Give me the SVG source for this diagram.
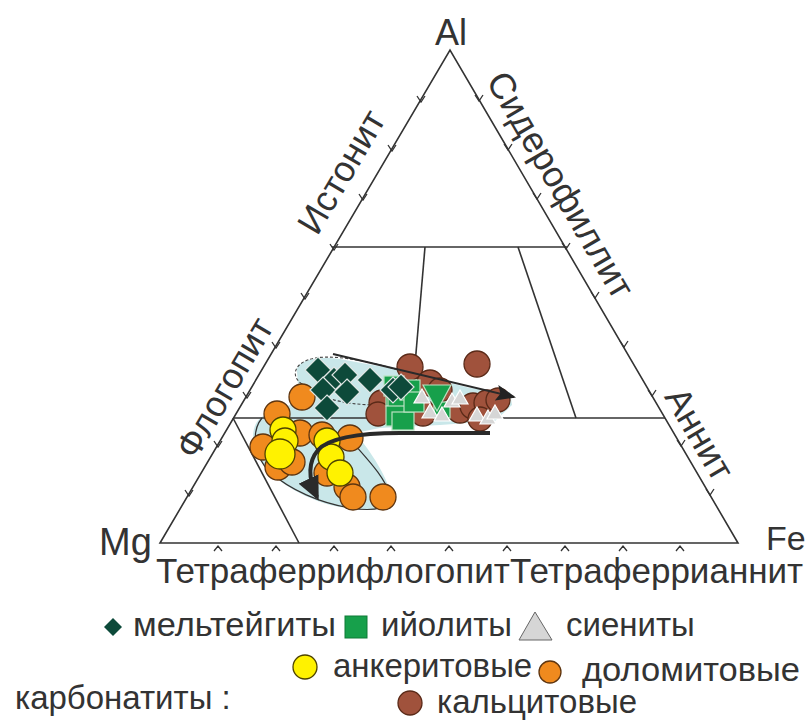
<svg xmlns="http://www.w3.org/2000/svg" width="810" height="720" viewBox="0 0 810 720">
<defs>
<style>
.lbl{font-family:"Liberation Sans",Arial,sans-serif;fill:#333;}
.big{font-size:36px;}
.leg{font-size:33px;}
.edge{fill:none;stroke:#333;stroke-width:1.6;}
.tick{fill:none;stroke:#333;stroke-width:1.3;}
.dia{fill:#0d4a3a;stroke:#e0e6e4;stroke-width:1.2;}
.sq{fill:#17a04b;stroke:#b9e2c2;stroke-width:1.2;}
.br{fill:#a0523c;stroke:#5a2a18;stroke-width:1.3;}
.or{fill:#f08a1e;stroke:#5e3510;stroke-width:1.3;}
.ye{fill:#fff200;stroke:#4e4300;stroke-width:1.3;}
.tr{fill:#d6d6d6;stroke:#ffffff;stroke-width:1.2;}
</style>
<marker id="ah" markerUnits="userSpaceOnUse" markerWidth="20" markerHeight="16" viewBox="0 0 20 16" refX="18" refY="8" orient="auto">
<path d="M0,0 L20,8 L0,16 L4,8 Z" fill="#222"/>
</marker>
<marker id="ah2" markerUnits="userSpaceOnUse" markerWidth="24" markerHeight="22" viewBox="0 0 24 22" refX="20" refY="11" orient="auto">
<path d="M0,0 L24,11 L0,22 Z" fill="#2a2a2a"/>
</marker>
</defs>
<rect width="810" height="720" fill="#ffffff"/>

<g id="field">
<path d="M297,372 C295,360 320,355 345,360 L400,370 L430,378 L470,388 L510,392 L512,405 L495,421 L440,425 L380,428 L355,433 C370,450 390,480 392,500 C390,512 360,512 330,505 C295,495 265,475 255,450 C250,432 255,420 265,415 L290,405 C300,395 298,385 297,372 Z" fill="#c9e7e9"/>
<path d="M302,384 C290,376 294,362 315,358 C340,354 380,364 412,374" fill="none" stroke="#444" stroke-width="1.1" stroke-dasharray="3,2"/>
<path d="M302,384 C315,396 340,405 378,405" fill="none" stroke="#444" stroke-width="1.1" stroke-dasharray="3,2"/>
<path d="M262,418 C252,430 252,455 270,472 C290,490 320,503 350,508 C375,512 393,508 390,495 C385,478 370,462 355,445" fill="none" stroke="#333" stroke-width="1.2"/>
</g>

<g id="frame">
<polygon class="edge" points="160,543 738,543 450,50"/>
<line class="edge" x1="332" y1="247" x2="567" y2="247"/>
<line class="edge" x1="233" y1="418" x2="665" y2="418"/>
<line class="edge" x1="425" y1="247" x2="412" y2="400"/>
<line class="edge" x1="518" y1="247" x2="576" y2="418"/>
<line class="edge" x1="233" y1="418" x2="299" y2="543"/>
</g>

<g id="ticks">
<path class="tick" d="M185,490 L189,496 L193,490 M214,441 L218,447 L222,441 M243,392 L247,398 L251,392 M272,342 L276,348 L280,342 M301,293 L305,299 L309,293 M330,244 L334,250 L338,244 M359,194 L363,200 L367,194 M388,145 L392,151 L396,145 M417,96 L421,102 L425,96"/>
<path class="tick" d="M475,95 L479,101 L483,95 M504,144 L508,150 L512,144 M533,193 L537,199 L541,193 M562,243 L566,249 L570,243 M591,292 L595,298 L599,292 M620,341 L624,347 L628,341 M648,390 L652,396 L656,390 M677,440 L681,446 L685,440 M706,489 L710,495 L714,489"/>
<path class="tick" d="M214,551 L218,546 L222,551 M272,551 L276,546 L280,551 M330,551 L334,546 L338,551 M387,551 L391,546 L395,551 M445,551 L449,546 L453,551 M503,551 L507,546 L511,551 M561,551 L565,546 L569,551 M619,551 L623,546 L627,551 M676,551 L680,546 L684,551"/>
</g>

<g id="labels">
<text class="lbl big" x="451" y="45" text-anchor="middle">Al</text>
<text class="lbl" style="font-size:38px" x="99" y="555">Mg</text>
<text class="lbl" style="font-size:34px" x="766" y="550">Fe</text>
<text class="lbl" style="font-size:35px" x="156" y="583">Тетраферрифлогопит</text>
<text class="lbl" style="font-size:35px" x="510" y="583">Тетраферрианнит</text>
<text class="lbl big" transform="translate(352,178) rotate(-59.5)" text-anchor="middle">Истонит</text>
<text class="lbl big" transform="translate(550,191) rotate(59.7)" text-anchor="middle">Сидерофиллит</text>
<text class="lbl big" transform="translate(235,394) rotate(-59.5)" text-anchor="middle">Флогопит</text>
<text class="lbl big" transform="translate(689,440) rotate(59.7)" text-anchor="middle">Аннит</text>
</g>

<g id="data">
<g id="dolomite">
<circle class="or" cx="302" cy="397" r="13"/>
<circle class="or" cx="277" cy="414" r="13"/>
<circle class="or" cx="300" cy="433" r="13"/>
<circle class="or" cx="263" cy="447" r="13"/>
<circle class="or" cx="278" cy="467" r="13"/>
<circle class="or" cx="292" cy="462" r="13"/>
<circle class="or" cx="322" cy="435" r="13"/>
<circle class="or" cx="350" cy="438" r="13"/>
<circle class="or" cx="327" cy="473" r="13"/>
<circle class="or" cx="347" cy="487" r="13"/>
<circle class="or" cx="353" cy="497" r="13"/>
<circle class="or" cx="383" cy="497" r="13"/>
</g>
<g id="ankerite">
<circle class="ye" cx="283" cy="430" r="13"/>
<circle class="ye" cx="285" cy="441" r="13"/>
<circle class="ye" cx="280" cy="454" r="15"/>
<circle class="ye" cx="327" cy="441" r="13"/>
<circle class="ye" cx="331" cy="457" r="13"/>
<circle class="ye" cx="340" cy="473" r="13"/>
</g>
<g id="calcite">
<circle class="br" cx="410" cy="367" r="13"/>
<circle class="br" cx="477" cy="364" r="13"/>
<circle class="br" cx="382" cy="403" r="13"/>
<circle class="br" cx="378" cy="414" r="12"/>
<circle class="br" cx="430" cy="383" r="13"/>
<circle class="br" cx="440" cy="390" r="12"/>
<circle class="br" cx="423" cy="413" r="13"/>
<circle class="br" cx="460" cy="410" r="13"/>
<circle class="br" cx="473" cy="406" r="13"/>
<circle class="br" cx="487" cy="403" r="13"/>
<circle class="br" cx="498" cy="400" r="12"/>
<circle class="br" cx="480" cy="419" r="12"/>
</g>
<g id="melteigite">
<path class="dia" d="M318,357 l13,13 l-13,13 l-13,-13 Z"/>
<path class="dia" d="M334,367 l12,12 l-12,12 l-12,-12 Z"/>
<path class="dia" d="M345,362 l13,13 l-13,13 l-13,-13 Z"/>
<path class="dia" d="M370,367 l13,13 l-13,13 l-13,-13 Z"/>
<path class="dia" d="M323,377 l13,13 l-13,13 l-13,-13 Z"/>
<path class="dia" d="M347,379 l13,13 l-13,13 l-13,-13 Z"/>
<path class="dia" d="M327,395 l13,13 l-13,13 l-13,-13 Z"/>
</g>
<g id="ijolite">
<rect class="sq" x="384" y="376" width="20" height="20"/>
<rect class="sq" x="386" y="386" width="20" height="20"/>
<rect class="sq" x="388" y="396" width="20" height="20"/>
<rect class="sq" x="386" y="406" width="22" height="20"/>
<rect class="sq" x="392" y="412" width="22" height="18"/>
<rect class="sq" x="400" y="380" width="20" height="20"/>
<rect class="sq" x="404" y="392" width="20" height="20"/>
<rect class="sq" x="434" y="402" width="16" height="16"/>
<path class="sq" d="M423,385 L451,385 L437,411 Z"/>
</g>
<g id="melt-top">
<path class="dia" d="M393,377 l13,13 l-13,13 l-13,-13 Z"/>
<path class="dia" d="M401,374 l13,13 l-13,13 l-13,-13 Z"/>
</g>
<g id="syenite">
<path class="tr" d="M422,389 L430,403 L414,403 Z"/>
<path class="tr" d="M430,404 L438,418 L422,418 Z"/>
<path class="tr" d="M442,407 L450,421 L434,421 Z"/>
<path class="tr" d="M452,393 L460,407 L444,407 Z"/>
<path class="tr" d="M460,390 L468,404 L452,404 Z"/>
<path class="tr" d="M477,407 L485,421 L469,421 Z"/>
<path class="tr" d="M488,410 L496,424 L480,424 Z"/>
<path class="tr" d="M495,405 L503,419 L487,419 Z"/>
</g>
</g>

<g id="connectors">
<path d="M333,354 L514,397" fill="none" stroke="#2a2a2a" stroke-width="2" marker-end="url(#ah)"/>
<path d="M490,433 L400,433 C360,433 330,437 318,450 C308,462 308,478 317,497" fill="none" stroke="#2a2a2a" stroke-width="4" marker-end="url(#ah2)"/>
</g>

<g id="legend">
<path d="M113,618 l9,9 l-9,9 l-9,-9 Z" fill="#0d4a3a"/>
<text class="lbl leg" x="133" y="636" textLength="203" lengthAdjust="spacingAndGlyphs">мельтейгиты</text>
<rect x="345" y="616" width="22" height="22" fill="#17a04b" stroke="#0e7a36" stroke-width="1"/>
<text class="lbl leg" x="381" y="636">ийолиты</text>
<path d="M535,612 L552,640 L519,640 Z" fill="#d6d6d6" stroke="#666" stroke-width="1"/>
<text class="lbl leg" x="566" y="636">сиениты</text>
<circle cx="305" cy="667" r="12" fill="#fff200" stroke="#4e4300" stroke-width="1.3"/>
<text class="lbl leg" x="333" y="677">анкеритовые</text>
<circle cx="550" cy="672" r="11" fill="#f08a1e" stroke="#5e3510" stroke-width="1.3"/>
<text class="lbl leg" x="582" y="681" textLength="218" lengthAdjust="spacingAndGlyphs">доломитовые</text>
<text class="lbl leg" x="15" y="709">карбонатиты :</text>
<circle cx="410" cy="703" r="12" fill="#a0523c" stroke="#5a2a18" stroke-width="1.3"/>
<text class="lbl leg" x="437" y="713">кальцитовые</text>
</g>
</svg>
